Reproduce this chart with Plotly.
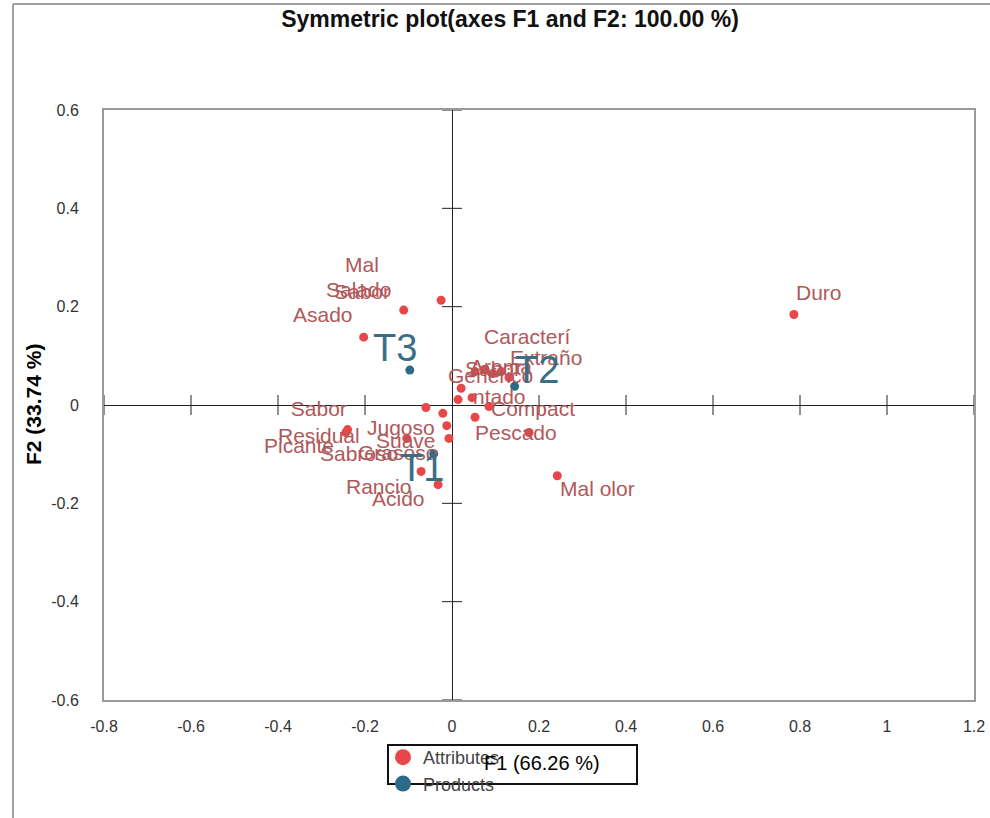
import plotly.graph_objects as go

# ---------------- data ----------------
attr_names = ["Duro", "Mal olor", "Mal<br>Sabor", "Salado", "Asado", "Sabor<br>Residual",
              "Picante", "Jugoso", "Suave", "Sabroso", "Grasoso", "Rancio", "Acido",
              "Pescado", "Compact", "ntado", "Caracterí", "Extraño", "Aroma", "Sabor",
              "Genérico", "", "", "", ""]
attr_f1 = [0.786, 0.242, -0.025, -0.111, -0.203, -0.240,
           -0.244, -0.060, -0.104, -0.021, -0.012, -0.071, -0.032,
           0.177, 0.085, 0.046, 0.131, 0.113, 0.076, 0.053,
           0.094, 0.021, 0.014, 0.053, -0.007]
attr_f2 = [0.184, -0.144, 0.213, 0.193, 0.138, -0.050,
           -0.056, -0.005, -0.068, -0.017, -0.042, -0.135, -0.162,
           -0.056, -0.003, 0.015, 0.056, 0.068, 0.072, 0.068,
           0.064, 0.034, 0.011, -0.025, -0.068]

prod_names = ["T1", "T2", "T3"]
prod_f1 = [-0.042, 0.144, -0.097]
prod_f2 = [-0.099, 0.038, 0.071]

x_ticks = [-0.8, -0.6, -0.4, -0.2, 0, 0.2, 0.4, 0.6, 0.8, 1, 1.2]
y_ticks = [-0.6, -0.4, -0.2, 0, 0.2, 0.4, 0.6]

title_text = "Symmetric plot(axes F1 and F2: 100.00 %)"
x_title = "F1 (66.26 %)"
y_title = "F2 (33.74 %)"

# ---------------- styles (label offsets in px: dx right, dy down) ----------------
attr_label_shift = [(25, -22), (40, 13), (-79, -22), (-45, -21), (-41, -23), (-29, -8),
                    (-47, 13), (-25, 20), (-1, 2), (-84, 40), (-49, 27), (-43, 15), (-40, 14),
                    (-13, 0), (44, 2), (27, -1), (19, -41), (45, -14), (16, -3), (18, -3),
                    (-2, 2), (0, 0), (0, 0), (0, 0), (0, 0)]
prod_label_shift = [(-12, 14), (22, -16), (-15, -22)]

FONT = "Arial, 'Liberation Sans', sans-serif"
ATTR_DOT = "#E8474A"
ATTR_TXT = "#B0585A"
PROD_DOT = "#2B6A88"
PROD_TXT = "#3A6E85"

W, H = 990, 818
L, R, T, B = 104, 16, 110, 118
PW, PH = W - L - R, H - T - B


def px2paper(px, py):
    return (px - L) / PW, (H - B - py) / PH


fig = go.Figure()
fig.add_trace(go.Scatter(x=attr_f1, y=attr_f2, mode="markers", name="Attributes",
                         marker=dict(color=ATTR_DOT, size=9, line=dict(width=0)),
                         hovertext=attr_names, hoverinfo="text", showlegend=False,
                         legendgroup="a"))
fig.add_trace(go.Scatter(x=prod_f1, y=prod_f2, mode="markers", name="Products",
                         marker=dict(color=PROD_DOT, size=9, line=dict(width=0)),
                         hovertext=prod_names, hoverinfo="text", showlegend=False,
                         legendgroup="p"))
# legend entries with larger symbols
fig.add_trace(go.Scatter(x=[None], y=[None], mode="markers", name="Attributes",
                         marker=dict(color=ATTR_DOT, size=19), legendgroup="a"))
fig.add_trace(go.Scatter(x=[None], y=[None], mode="markers", name="Products",
                         marker=dict(color=PROD_DOT, size=19), legendgroup="p"))

for n, xv, yv, (dx, dy) in zip(attr_names, attr_f1, attr_f2, attr_label_shift):
    if n:
        fig.add_annotation(x=xv, y=yv, text=n, showarrow=False, xshift=dx, yshift=-dy,
                           font=dict(family=FONT, size=21, color=ATTR_TXT), align="center")
for n, xv, yv, (dx, dy) in zip(prod_names, prod_f1, prod_f2, prod_label_shift):
    fig.add_annotation(x=xv, y=yv, text=n, showarrow=False, xshift=dx, yshift=-dy,
                       font=dict(family=FONT, size=38, color=PROD_TXT))

# tick marks on the zero axes
for v in x_ticks:
    if v != 0:
        fig.add_shape(type="line", xref="x", yref="y", x0=v, x1=v, ysizemode="pixel",
                      yanchor=0, y0=-10, y1=10, line=dict(color="#222", width=1))
for v in y_ticks:
    if v != 0:
        fig.add_shape(type="line", xref="x", yref="y", y0=v, y1=v, xsizemode="pixel",
                      xanchor=0, x0=-10, x1=10, line=dict(color="#222", width=1))

# outer chart border (left and top)
x0p, y0p = px2paper(13, 4)
x1p, _ = px2paper(990, 4)
_, ybp = px2paper(13, 818)
fig.add_shape(type="line", xref="paper", yref="paper", x0=x0p, x1=x0p, y0=ybp, y1=y0p,
              line=dict(color="#A0A0A0", width=2))
fig.add_shape(type="line", xref="paper", yref="paper", x0=x0p, x1=x1p, y0=y0p, y1=y0p,
              line=dict(color="#A0A0A0", width=2))

# legend box
lx0, ly0 = px2paper(388, 745)
lx1, ly1 = px2paper(637, 784)
fig.add_shape(type="rect", xref="paper", yref="paper", x0=lx0, x1=lx1, y0=ly1, y1=ly0,
              line=dict(color="#111", width=2), fillcolor="rgba(0,0,0,0)")

# axis titles as annotations
xtx, xty = px2paper(542, 763)
fig.add_annotation(xref="paper", yref="paper", x=xtx, y=xty, text=x_title, showarrow=False,
                   xanchor="center", yanchor="middle",
                   font=dict(family=FONT, size=20, color="#000"))
ytx, yty = px2paper(33, 405)
fig.add_annotation(xref="paper", yref="paper", x=ytx, y=yty, text="<b>" + y_title + "</b>",
                   showarrow=False, textangle=-90, xanchor="center", yanchor="middle",
                   font=dict(family=FONT, size=21, color="#000"))

legx, legy = px2paper(383, 739)
fig.update_layout(
    width=W, height=H,
    margin=dict(l=L, r=R, t=T, b=B),
    paper_bgcolor="white", plot_bgcolor="white",
    title=dict(text="<b>" + title_text + "</b>", x=510 / W, xanchor="center",
               y=1 - 19 / H, yanchor="middle",
               font=dict(family=FONT, size=23, color="#111")),
    showlegend=True,
    legend=dict(x=legx, y=legy, xanchor="left", yanchor="top", bgcolor="rgba(0,0,0,0)",
                borderwidth=0, font=dict(family=FONT, size=18, color="#444"),
                itemsizing="trace", tracegroupgap=0, itemwidth=30),
    xaxis=dict(range=[-0.8, 1.2], tickvals=x_ticks, ticktext=[f"{v:g}" for v in x_ticks],
               showgrid=False, zeroline=True, zerolinecolor="#222", zerolinewidth=1,
               showline=True, mirror=True, linecolor="#9A9A9A", linewidth=2,
               ticks="outside", ticklen=11, tickcolor="rgba(0,0,0,0)", automargin=False,
               tickfont=dict(family=FONT, size=16, color="#333")),
    yaxis=dict(range=[-0.6, 0.6], tickvals=y_ticks, ticktext=[f"{v:g}" for v in y_ticks],
               showgrid=False, zeroline=True, zerolinecolor="#222", zerolinewidth=1,
               showline=True, mirror=True, linecolor="#9A9A9A", linewidth=2,
               ticks="outside", ticklen=20, tickcolor="rgba(0,0,0,0)", automargin=False,
               tickfont=dict(family=FONT, size=16, color="#333")),
)
fig.write_html(
    "out.html",
    config={"displayModeBar": False},
    post_script=("document.documentElement.style.margin='0';"
                 "document.body.style.margin='0';"
                 "document.documentElement.style.overflow='hidden';"
                 "document.body.style.overflow='hidden';"),
)
